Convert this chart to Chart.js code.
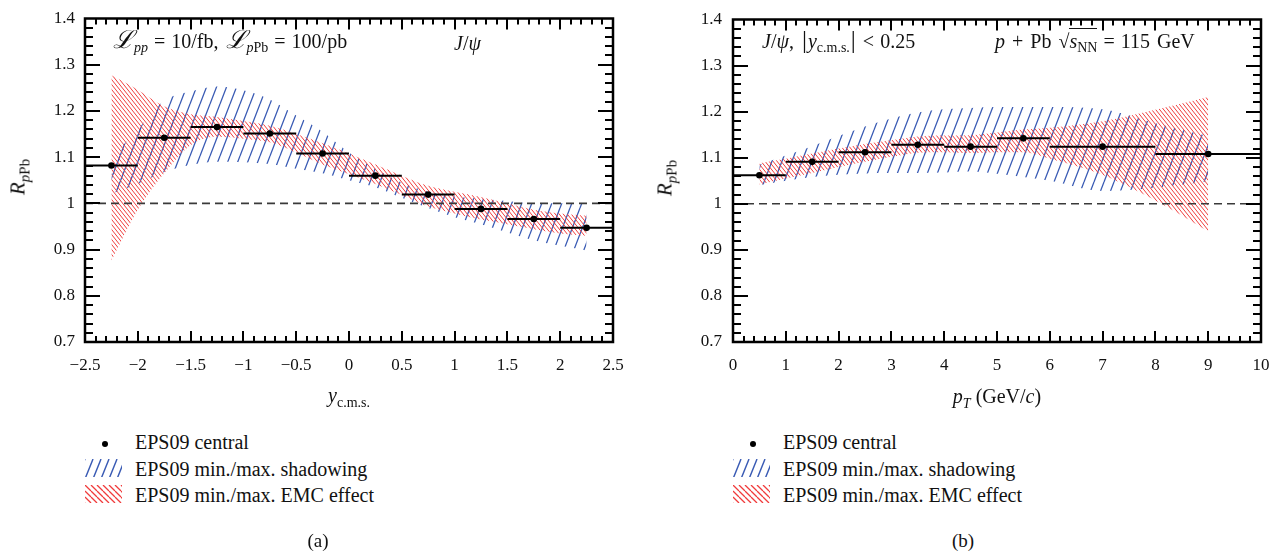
<!DOCTYPE html>
<html>
<head>
<meta charset="utf-8">
<title>R_pPb J/psi EPS09</title>
<script src="https://cdn.jsdelivr.net/npm/chart.js@4.4.1/dist/chart.umd.min.js"></script>
<style>
  body { margin: 0; background: #fff; width: 1288px; height: 554px; overflow: hidden; position: relative;
         font-family: 'Liberation Serif', 'DejaVu Serif', serif; color: #111; }
  canvas.plot, canvas.frame { position: absolute; top: 0; }
  canvas.frame { pointer-events: none; }
  .txt { position: absolute; white-space: nowrap; font-size: 20px; line-height: 1; word-spacing: 2px; }
  .txt sub { font-size: 14px; vertical-align: -4px; line-height: 0; }
  .eq { padding: 0 6px; }
  .scr { font-size: 25px; line-height: 0; }
  .bar { font-size: 25px; line-height: 0; padding: 0 1px; }
  .ytitle { position: absolute; white-space: nowrap; font-size: 21px; line-height: 1;
            transform: translate(-50%, -50%) rotate(-90deg); }
  .ytitle sub { font-size: 15px; vertical-align: -5px; line-height: 0; }
  .xtitle { position: absolute; white-space: nowrap; font-size: 20px; line-height: 1; transform: translateX(-50%); }
  .xtitle sub { font-size: 14px; vertical-align: -5px; line-height: 0; }
  .legend { position: absolute; top: 430px; font-size: 20px; line-height: 1; }
  .legend .row { position: relative; height: 26.5px; }
  .legend .key { position: absolute; left: 0; top: 2px; width: 37px; height: 18px; }
  .legend .dot { position: absolute; left: 17px; top: 11px; width: 6px; height: 6px; border-radius: 50%; background: #000; }
  .legend .lab { position: absolute; left: 50px; top: 2px; white-space: nowrap; }
  .caption { position: absolute; top: 530px; font-size: 19px; transform: translateX(-50%); }
  .sqrt { white-space: nowrap; }
  .sqrt .rad { border-top: 1px solid #111; padding-top: 1px; }
</style>
</head>
<body>

<canvas id="chartA" class="plot" width="644" height="400" style="left:0"></canvas>
<canvas id="chartB" class="plot" width="644" height="400" style="left:644px"></canvas>
<canvas id="frameA" class="frame" width="644" height="400" style="left:0"></canvas>
<canvas id="frameB" class="frame" width="644" height="400" style="left:644px"></canvas>

<!-- panel (a) texts -->
<div class="ytitle" style="left:18px; top:177px"><i>R</i><sub><i>p</i>Pb</sub></div>
<div class="txt" style="left:113px; top:31px"><i class="scr">ℒ</i><sub><i>pp</i></sub><span class="eq">=</span>10/fb, <i class="scr">ℒ</i><sub><i>p</i>Pb</sub><span class="eq">=</span>100/pb</div>
<div class="txt" style="left:454px; top:33px"><i>J</i>/<i>ψ</i></div>
<div class="xtitle" style="left:349px; top:385px"><i>y</i><sub>c.m.s.</sub></div>

<!-- panel (b) texts -->
<div class="ytitle" style="left:665px; top:178px"><i>R</i><sub><i>p</i>Pb</sub></div>
<div class="txt" style="left:762px; top:31px"><i>J</i>/<i>ψ</i>, <span class="bar">|</span><i>y</i><sub>c.m.s.</sub><span class="bar">|</span><span class="eq">&lt;</span>0.25</div>
<div class="txt" style="left:995px; top:31px"><i>p</i> + Pb <span class="sqrt">√<span class="rad"><i>s</i><sub>NN</sub></span></span><span class="eq">=</span>115 GeV</div>
<div class="xtitle" style="left:997px; top:386px"><i>p</i><sub><i>T</i></sub> (GeV/<i>c</i>)</div>

<!-- legends -->
<div class="legend" style="left:85px">
  <div class="row"><span class="dot"></span><span class="lab">EPS09 central</span></div>
  <div class="row"><canvas class="key" width="37" height="18" data-hatch="shadow"></canvas><span class="lab">EPS09 min./max. shadowing</span></div>
  <div class="row"><canvas class="key" width="37" height="18" data-hatch="emc"></canvas><span class="lab">EPS09 min./max. EMC effect</span></div>
</div>
<div class="legend" style="left:733px">
  <div class="row"><span class="dot"></span><span class="lab">EPS09 central</span></div>
  <div class="row"><canvas class="key" width="37" height="18" data-hatch="shadow"></canvas><span class="lab">EPS09 min./max. shadowing</span></div>
  <div class="row"><canvas class="key" width="37" height="18" data-hatch="emc"></canvas><span class="lab">EPS09 min./max. EMC effect</span></div>
</div>
<div class="caption" style="left:318px">(a)</div>
<div class="caption" style="left:963px">(b)</div>

<script>
// ---- panel (a): rapidity dependence ----
const yBinEdges = [-2.5, -2, -1.5, -1, -0.5, 0, 0.5, 1, 1.5, 2, 2.5];
const yCenters = [-2.25, -1.75, -1.25, -0.75, -0.25, 0.25, 0.75, 1.25, 1.75, 2.25];
const yCentral = [1.082, 1.142, 1.165, 1.151, 1.108, 1.06, 1.019, 0.988, 0.966, 0.947];

const yBandX = [-2.25, -2, -1.75, -1.5, -1.25, -1, -0.75, -0.5, -0.25, 0, 0.25, 0.5, 0.75, 1, 1.25, 1.5, 1.75, 2, 2.25];
const yShadowHi = [1.10, 1.16, 1.222, 1.242, 1.253, 1.245, 1.225, 1.19, 1.155, 1.11, 1.075, 1.045, 1.025, 1.015, 1.01, 1.005, 1.0, 1.0, 0.998];
const yShadowLo = [1.021, 1.042, 1.068, 1.083, 1.09, 1.089, 1.085, 1.075, 1.065, 1.05, 1.035, 1.012, 0.99, 0.97, 0.955, 0.937, 0.92, 0.908, 0.898];
const yEmcHi = [1.277, 1.246, 1.21, 1.193, 1.187, 1.178, 1.168, 1.15, 1.13, 1.108, 1.084, 1.06, 1.038, 1.025, 1.014, 1.0, 0.986, 0.978, 0.973];
const yEmcLo = [0.876, 0.986, 1.065, 1.126, 1.144, 1.14, 1.132, 1.11, 1.084, 1.063, 1.042, 1.018, 0.993, 0.978, 0.965, 0.955, 0.944, 0.935, 0.93];

// ---- panel (b): pT dependence ----
const ptBinEdges = [0, 1, 2, 3, 4, 5, 6, 8, 10];
const ptCenters = [0.5, 1.5, 2.5, 3.5, 4.5, 5.5, 7, 9];
const ptCentral = [1.062, 1.091, 1.112, 1.128, 1.124, 1.142, 1.124, 1.108];

const ptBandX = [0.5, 1, 1.5, 2, 2.5, 3, 3.5, 4, 4.5, 5, 5.5, 6, 7, 8, 9];
const ptShadowHi = [1.085, 1.105, 1.125, 1.147, 1.168, 1.185, 1.198, 1.205, 1.208, 1.21, 1.21, 1.21, 1.205, 1.175, 1.147];
const ptShadowLo = [1.04, 1.05, 1.058, 1.063, 1.066, 1.067, 1.067, 1.068, 1.07, 1.065, 1.058, 1.05, 1.028, 1.035, 1.049];
const ptEmcHi = [1.088, 1.098, 1.109, 1.12, 1.13, 1.138, 1.146, 1.148, 1.149, 1.155, 1.161, 1.165, 1.179, 1.204, 1.232];
const ptEmcLo = [1.042, 1.055, 1.067, 1.08, 1.091, 1.102, 1.111, 1.112, 1.11, 1.112, 1.112, 1.098, 1.063, 1.007, 0.94];

// axis ranges / ticks
const rRange = [0.7, 1.4];
const yRange = [-2.5, 2.5];
const ptRange = [0, 10];

const BLUE = '#3a5bb4';
const RED = '#f03c3c';

function makeHatch(ctx, color, w, h, dir, lw) {
  const c = document.createElement('canvas');
  c.width = w;
  c.height = h;
  const g = c.getContext('2d');
  g.strokeStyle = color;
  g.lineWidth = lw;
  g.beginPath();
  for (let k = -1; k <= 1; k++) {
    const o = k * w;
    if (dir === '/') { g.moveTo(o, h); g.lineTo(o + w, 0); }
    else { g.moveTo(o, 0); g.lineTo(o + w, h); }
  }
  g.stroke();
  return ctx.createPattern(c, 'repeat');
}

function pts(xs, ys) {
  return xs.map(function (x, i) { return { x: x, y: ys[i] }; });
}

function barSegments(edges, vals) {
  const out = [];
  vals.forEach(function (v, i) {
    out.push({ x: edges[i], y: v }, { x: edges[i + 1], y: v }, { x: edges[i + 1], y: null });
  });
  return out;
}

// frame + inward ticks on all four sides, on an overlay canvas, placed with the chart's scales
function drawFrame(chart, frameId, xMinor, yMinor) {
  const ctx = document.getElementById(frameId).getContext('2d');
  const a = chart.chartArea;
  const xs = chart.scales.x;
  const ys = chart.scales.y;
  const nx = Math.round((xs.max - xs.min) / xMinor);
  const ny = Math.round((ys.max - ys.min) / yMinor);
  ctx.fillStyle = '#000';
  for (let i = 1; i < nx; i++) {
    const px = Math.round(xs.getPixelForValue(xs.min + i * xMinor));
    const len = i % 5 === 0 ? 11 : 6;
    ctx.fillRect(px - 1, a.bottom - len, 2, len);
    ctx.fillRect(px - 1, a.top, 2, len);
  }
  for (let i = 1; i < ny; i++) {
    const py = Math.round(ys.getPixelForValue(ys.min + i * yMinor));
    const len = i % 5 === 0 ? 15 : 8;
    ctx.fillRect(a.left, py - 1, len, 2);
    ctx.fillRect(a.right - len, py - 1, len, 2);
  }
  ctx.strokeStyle = '#000';
  ctx.lineWidth = 2.5;
  ctx.strokeRect(a.left, a.top, a.right - a.left, a.bottom - a.top);
}

function buildChart(id, cfg) {
  const canvas = document.getElementById(id);
  const ctx = canvas.getContext('2d');
  const bluePat = makeHatch(ctx, BLUE, 10, 26, '/', 1.3);
  const redPat = makeHatch(ctx, RED, 4, 5, '\\', 1.0);
  const tickFont = { family: "'Liberation Serif', 'DejaVu Serif', serif", size: 17, lineHeight: 1 };
  const band = { borderWidth: 0, pointRadius: 0, cubicInterpolationMode: 'monotone' };

  return new Chart(canvas, {
    type: 'line',
    data: {
      datasets: [
        Object.assign({ data: pts(cfg.bandX, cfg.shadowLo), fill: false, order: 5 }, band),
        Object.assign({ data: pts(cfg.bandX, cfg.shadowHi), fill: '-1', backgroundColor: bluePat, order: 5 }, band),
        Object.assign({ data: pts(cfg.bandX, cfg.emcLo), fill: false, order: 4 }, band),
        Object.assign({ data: pts(cfg.bandX, cfg.emcHi), fill: '-1', backgroundColor: redPat, order: 4 }, band),
        {
          data: [{ x: cfg.xRange[0], y: 1 }, { x: cfg.xRange[1], y: 1 }],
          borderColor: '#3a3a3a', borderWidth: 1.6, borderDash: [8, 5], pointRadius: 0, fill: false, order: 3,
        },
        {
          data: barSegments(cfg.edges, cfg.central),
          borderColor: '#000', borderWidth: 2, pointRadius: 0, fill: false, spanGaps: false, order: 2,
        },
        {
          data: pts(cfg.centers, cfg.central),
          showLine: false, pointRadius: 3.3, pointBackgroundColor: '#000', pointBorderWidth: 0, order: 1,
        },
      ],
    },
    options: {
      responsive: false,
      animation: false,
      devicePixelRatio: 1,
      layout: { padding: { top: 10, right: cfg.padRight, left: 0, bottom: 0 } },
      plugins: {
        legend: { display: false },
        tooltip: { enabled: false },
      },
      scales: {
        x: {
          type: 'linear',
          min: cfg.xRange[0],
          max: cfg.xRange[1],
          grid: { display: false, drawTicks: false },
          border: { display: false },
          ticks: {
            stepSize: cfg.xStep, autoSkip: false, maxRotation: 0, padding: 15, color: '#111', font: tickFont,
            callback: function (v) {
              const r = Math.round(v * 10) / 10;
              return (r < 0 ? '\u2212' : '') + Math.abs(r);
            },
          },
          afterFit: function (s) { s.height = 58; },
        },
        y: {
          min: rRange[0],
          max: rRange[1],
          grid: { display: false, drawTicks: false },
          border: { display: false },
          ticks: {
            stepSize: 0.1, autoSkip: false, padding: cfg.yPad, color: '#111', font: tickFont,
            callback: function (v) { return String(Math.round(v * 10) / 10); },
          },
          afterFit: function (s) { s.width = cfg.yWidth; },
        },
      },
    },
  });
}

function drawKeys() {
  document.querySelectorAll('canvas.key').forEach(function (c) {
    const g = c.getContext('2d');
    if (c.dataset.hatch === 'shadow') {
      g.fillStyle = makeHatch(g, BLUE, 8, 20, '/', 1.4);
    } else {
      g.fillStyle = makeHatch(g, RED, 6, 6, '\\', 1.3);
    }
    g.fillRect(0, 0, c.width, c.height);
  });
}

const chartA = buildChart('chartA', {
  bandX: yBandX, shadowLo: yShadowLo, shadowHi: yShadowHi, emcLo: yEmcLo, emcHi: yEmcHi,
  edges: yBinEdges, centers: yCenters, central: yCentral,
  xRange: yRange, xStep: 0.5, yWidth: 85, yPad: 10, padRight: 31,
});

const chartB = buildChart('chartB', {
  bandX: ptBandX, shadowLo: ptShadowLo, shadowHi: ptShadowHi, emcLo: ptEmcLo, emcHi: ptEmcHi,
  edges: ptBinEdges, centers: ptCenters, central: ptCentral,
  xRange: ptRange, xStep: 1, yWidth: 89, yPad: 11, padRight: 27,
});

drawFrame(chartA, 'frameA', 0.1, 0.02);
drawFrame(chartB, 'frameB', 0.2, 0.02);
drawKeys();
</script>
</body>
</html>
